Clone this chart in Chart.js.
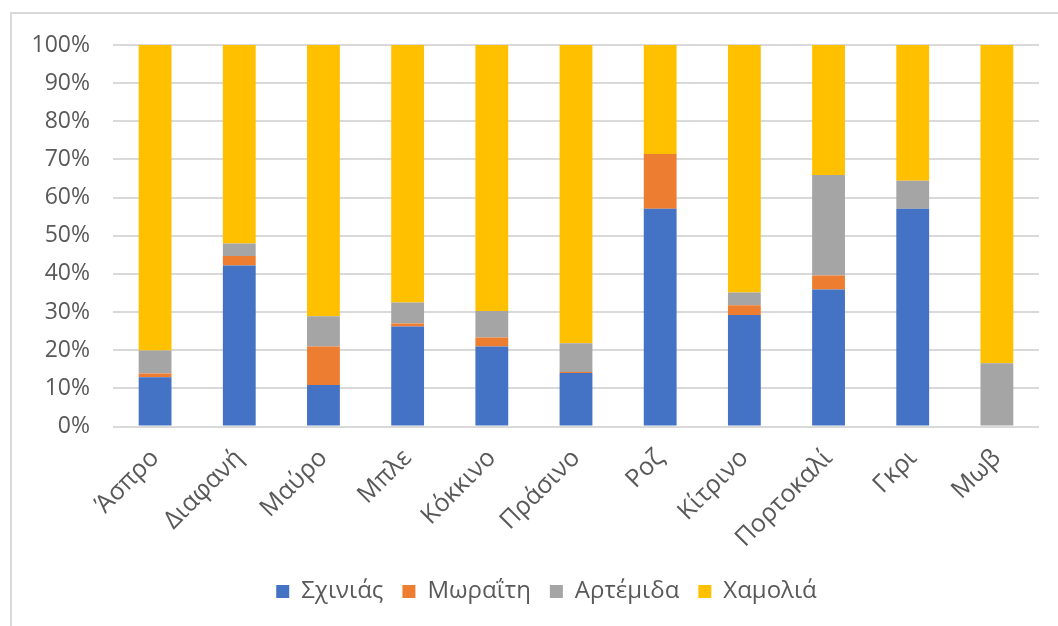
<!DOCTYPE html>
<html>
<head>
  <meta charset="UTF-8">
  <title>Χρώματα ανά περιοχή</title>
  <script src="https://cdn.jsdelivr.net/npm/chart.js"></script>
  <style>
    html, body {
      margin: 0;
      padding: 0;
      background: #fff;
    }
    #wrap {
      width: 1058px;
      height: 626px;
      position: relative;
    }
  </style>
</head>
<body>

  <div id="wrap">
    <canvas id="colorChart" width="1058" height="626"></canvas>
  </div>

  <script>
    // colour categories along the x axis
    const colours = ["Άσπρο", "Διαφανή", "Μαύρο", "Μπλε", "Κόκκινο", "Πράσινο", "Ροζ", "Κίτρινο", "Πορτοκαλί", "Γκρι", "Μωβ"];

    // share (%) of each area per colour
    const schinias = [12.9, 42.2, 10.9, 26.2, 21.0, 14.0, 57.1, 29.2, 35.9, 57.1, 0];
    const moraiti  = [1.0, 2.5, 10.1, 0.8, 2.3, 0.3, 14.3, 2.6, 3.7, 0, 0];
    const artemida = [6.0, 3.3, 7.9, 5.5, 7.0, 7.5, 0, 3.3, 26.3, 7.3, 16.6];
    const chamolia = [80.1, 52.0, 71.1, 67.5, 69.7, 78.2, 28.6, 64.9, 34.1, 35.6, 83.4];

    const yTicks = [0, 10, 20, 30, 40, 50, 60, 70, 80, 90, 100];

    const textColor = "#595959";
    const fontFamily = "'Open Sans', sans-serif";

    // thin frame round the whole chart
    const framePlugin = {
      id: "frame",
      beforeDraw(chart) {
        const c = chart.ctx;
        c.save();
        c.strokeStyle = "#D9D9D9";
        c.lineWidth = 2;
        c.beginPath();
        c.moveTo(11, chart.height + 2);
        c.lineTo(11, 13);
        c.lineTo(chart.width + 2, 13);
        c.stroke();
        c.restore();
      }
    };

    // legend sits a bit right of the canvas centre
    const legendShift = {
      id: "legendShift",
      afterLayout(chart) {
        chart.legend.left += 27;
        chart.legend.right += 27;
      }
    };

    const ctx = document.getElementById("colorChart").getContext("2d");

    const chart = new Chart(ctx, {
      type: "bar",
      data: {
        labels: colours,
        datasets: [
          { label: "Σχινιάς",  data: schinias, backgroundColor: "#4472C4" },
          { label: "Μωραΐτη",  data: moraiti,  backgroundColor: "#ED7D31" },
          { label: "Αρτέμιδα", data: artemida, backgroundColor: "#A5A5A5" },
          { label: "Χαμολιά",  data: chamolia, backgroundColor: "#FFC000" }
        ]
      },
      options: {
        responsive: false,
        animation: false,
        layout: {
          padding: { left: 0, right: 19, top: 45, bottom: 12.5 }
        },
        datasets: {
          bar: {
            barPercentage: 0.39,
            categoryPercentage: 1
          }
        },
        scales: {
          x: {
            stacked: true,
            grid: { display: false },
            border: { display: false },
            ticks: {
              color: textColor,
              font: { family: fontFamily, size: 25 },
              minRotation: 45,
              maxRotation: 45,
              padding: 9
            },
            afterFit(scale) { scale.height = 134; }
          },
          y: {
            stacked: true,
            min: 0,
            max: 100,
            afterBuildTicks(scale) {
              scale.ticks = yTicks.map(v => ({ value: v }));
            },
            grid: {
              color: "#D9D9D9",
              lineWidth: 2,
              drawTicks: false
            },
            border: { display: false },
            ticks: {
              color: textColor,
              font: { family: fontFamily, size: 23 },
              padding: 23,
              callback: v => v + "%"
            },
            afterFit(scale) { scale.width = 113; }
          }
        },
        plugins: {
          legend: {
            position: "bottom",
            labels: {
              color: textColor,
              font: { family: fontFamily, size: 24, lineHeight: 1 },
              boxWidth: 13,
              boxHeight: 13,
              padding: 19
            }
          },
          tooltip: { enabled: false }
        }
      },
      plugins: [framePlugin, legendShift]
    });
  </script>

</body>
</html>
